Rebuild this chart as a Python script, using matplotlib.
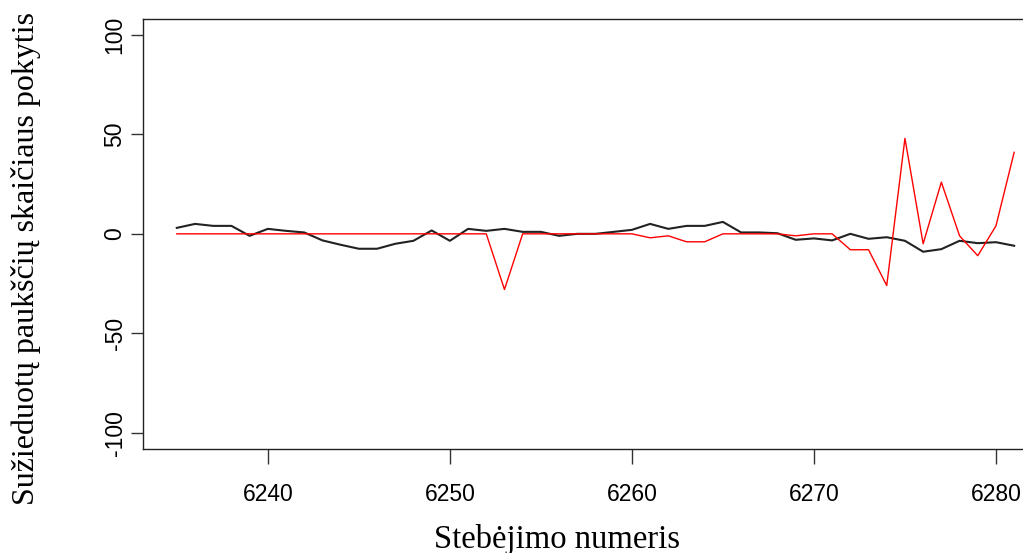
import numpy as np
import matplotlib
matplotlib.use("Agg")
import matplotlib.pyplot as plt

# observation numbers
obs = np.arange(6235, 6282)

# change in ringed bird counts: observed (black) and model (red)
observed = [3, 5, 4, 4, -1, 2.5, 1.5, 0.7, -3.3, -5.5, -7.5, -7.5, -5, -3.5, 1.7,
            -3.5, 2.5, 1.5, 2.5, 1, 1, -1, 0, 0, 1, 2, 5, 2.5, 4, 4,
            6, 0.7, 0.7, 0.3, -3, -2.3, -3.3, 0, -2.5, -1.7, -3.5, -9, -7.7, -3.5, -4.7,
            -4.2, -6]
predicted = [0, 0, 0, 0, 0, 0, 0, 0, 0, 0, 0, 0, 0, 0, 0,
             0, 0, 0, -28, 0, 0, 0, 0, 0, 0, 0, -2, -1, -4, -4,
             0, 0, 0, 0, -1, 0, 0, -8, -8, -26, 48, -5, 26, -1, -11,
             4, 41]

yticks = [-100, -50, 0, 50, 100]
xticks = [6240, 6250, 6260, 6270, 6280]

tick_font = ["Liberation Sans Narrow", "Liberation Sans", "DejaVu Sans"]
label_font = ["Liberation Serif", "DejaVu Serif"]

fig = plt.figure(figsize=(10.23, 5.53), dpi=100)
ax = fig.add_axes([0.1401, 0.1888, 0.884, 0.7767])

ax.plot(obs, observed, color="#222222", linewidth=1.5)
ax.plot(obs, predicted, color="#ff0000", linewidth=1.0)

# R-style 4% padding on x, fixed +-108 on y
span = obs[-1] - obs[0]
ax.set_xlim(obs[0] - 0.04 * span, obs[-1] + 0.04 * span)
ax.set_ylim(-108, 108)

ax.set_xticks(xticks)
ax.set_yticks(yticks)
ax.set_xticklabels([str(t) for t in xticks], family=tick_font, fontsize=16.5)
ax.set_yticklabels([str(t) for t in yticks], family=tick_font, fontsize=16.5,
                   rotation=90, va="center", ha="right")

for s in ax.spines.values():
    s.set_linewidth(1.0)
    s.set_color("#222222")

ax.tick_params(axis="x", length=10.8, width=1.0, color="#333333", pad=14)
ax.tick_params(axis="y", length=8.6, width=1.0, color="#333333", pad=3.5)

fig.text(556.5 / 1023, 1 - 547.7 / 553, "Stebėjimo numeris", family=label_font,
         fontsize=23.5, ha="center", va="baseline")
fig.text(26 / 1023, 1 - 258.5 / 553, "Sužieduotų paukščių skaičiaus pokytis",
         family=label_font, fontsize=23, rotation=90, ha="center", va="center")

fig.savefig("out.png", dpi=100)
